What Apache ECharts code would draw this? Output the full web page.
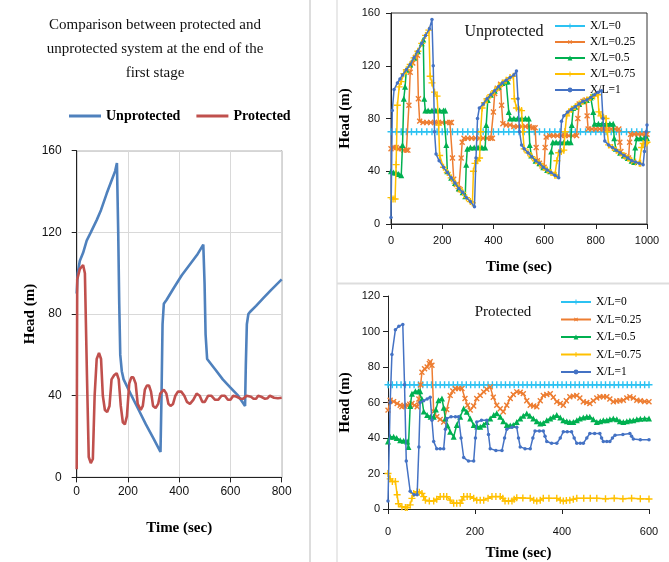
<!DOCTYPE html>
<html><head><meta charset="utf-8">
<script src="https://cdn.jsdelivr.net/npm/echarts@6/dist/echarts.min.js"></script>
<style>html,body{margin:0;padding:0;background:#fff}#c{width:669px;height:562px}</style>
</head><body><div id="c"></div>
<script>
// ---------- Left panel: Comparison (first stage) ----------
const leftUnprotected = [[0,90],[4,100],[12,106],[25,110],[39,116],[55,120],[78,126],[95,131],[117,139],[135,145],[150,150],[157,154],[162,120],[166,85],[170,60],[176,52],[183,48],[210,41],[242,33],[270,26],[300,19],[327,12.5],[331,40],[335,75],[340,85],[351,87],[380,93],[410,99],[440,104],[470,109],[494,114],[499,95],[503,70],[509,58],[540,53],[570,48],[600,44],[630,40],[657,35],[660,55],[664,75],[670,80],[676,81],[700,84],[730,88],[760,92],[800,97]];
const leftProtected = [[0,4],[2,97],[12,102],[25,104],[32,100],[40,50],[47,10],[55,7],[63,9],[70,40],[78,58],[87,61],[95,58],[102,40],[110,33],[119,32],[128,35],[136,48],[146,50],[156,51],[164,48],[172,35],[180,27],[188,26],[196,30],[205,46],[213,49],[221,49],[230,46],[238,36],[250,33],[258,35],[266,43],[274,45],[282,45],[290,42],[298,35],[308,34],[318,36],[326,41],[340,43],[350,41],[358,36],[366,35],[376,36],[385,40],[395,42],[408,42],[420,40],[430,37],[442,36],[455,38],[468,41],[480,40],[490,37],[500,37],[513,40],[525,40],[540,38],[552,38],[565,40],[578,40],[590,38],[600,38],[611,40],[625,39.5],[640,38.5],[650,38.5],[663,40],[680,39.5],[690,38.5],[700,38.5],[708,40],[720,39.5],[735,38.5],[745,38.8],[754,40],[770,39],[785,38.8],[800,39]];

// ---------- Top right: Unprotected ----------
const unprotXL0 = [[0,70],[20,70],[40,70],[60,70],[80,70],[100,70],[120,70],[140,70],[160,70],[180,70],[200,70],[220,70],[240,70],[260,70],[280,70],[300,70],[320,70],[340,70],[360,70],[380,70],[400,70],[420,70],[440,70],[460,70],[480,70],[500,70],[520,70],[540,70],[560,70],[580,70],[600,70],[620,70],[640,70],[660,70],[680,70],[700,70],[720,70],[740,70],[760,70],[780,70],[800,70],[820,70],[840,70],[860,70],[880,70],[900,70],[920,70],[940,70],[960,70],[980,70],[1000,70]];
const unprotXL025 = [[0,57],[10,58],[20,58],[30,57],[40,57],[50,56],[60,56],[66,56],[70,90],[75,115],[85,122],[95,126],[103,128],[107,95],[112,78],[125,77],[140,77],[155,77],[170,77],[185,77],[200,77],[215,77],[230,77],[236,77],[240,50],[245,34],[255,30],[265,27],[270,26],[274,50],[278,62],[285,65],[300,65],[315,65],[330,65],[345,65],[360,65],[375,65],[390,65],[396,65],[400,85],[405,99],[415,103],[428,106],[432,90],[437,76],[450,75],[465,75],[480,74],[495,74],[510,74],[525,74],[540,74],[555,73],[563,73],[567,58],[572,48],[580,46],[590,44],[598,43],[602,58],[606,66],[620,67],[635,67],[650,67],[665,67],[680,67],[695,67],[710,67],[725,67],[730,80],[735,91],[750,93],[762,94],[766,82],[770,72],[785,72],[800,72],[815,72],[830,72],[845,72],[860,72],[875,72],[890,72],[894,62],[898,55],[910,52],[920,51],[928,50],[932,62],[936,68],[950,68],[965,68],[980,68],[995,68],[1000,68]];
const unprotXL05 = [[0,40],[10,39],[20,39],[30,38],[40,37],[45,60],[50,95],[55,104],[60,117],[75,121],[90,126],[105,131],[120,137],[126,140],[130,95],[134,86],[145,86],[160,86],[175,86],[190,86],[205,86],[212,86],[216,60],[220,40],[235,35],[250,31],[265,27],[280,24],[290,21],[294,45],[298,57],[310,58],[325,58],[340,58],[355,58],[368,58],[372,75],[378,94],[390,98],[405,101],[420,104],[435,107],[450,108],[456,108],[460,85],[465,80],[480,80],[495,80],[510,80],[525,80],[538,80],[542,60],[548,52],[565,48],[580,46],[595,43],[610,41],[622,40],[626,55],[632,62],[645,62],[660,62],[675,62],[690,62],[702,62],[706,75],[712,88],[720,89],[735,91],[750,93],[765,94],[780,96],[786,97],[790,85],[795,76],[810,76],[825,76],[840,76],[855,76],[868,76],[872,65],[878,57],[895,54],[910,52],[925,50],[940,48],[950,47],[954,58],[960,65],[975,65],[990,65],[1000,65]];
const unprotXL075 = [[0,20],[8,19],[16,19],[20,45],[25,90],[32,104],[40,108],[50,114],[60,117],[75,121],[90,126],[105,131],[120,137],[135,143],[148,147],[153,112],[160,107],[170,100],[180,97],[186,75],[190,52],[205,43],[220,39],[235,35],[250,31],[265,27],[280,24],[295,20],[310,17],[318,16],[322,40],[328,46],[338,48],[346,50],[350,70],[356,88],[365,92],[375,95],[390,98],[405,101],[420,104],[435,107],[450,109],[465,111],[478,112],[482,95],[490,88],[500,87],[510,86],[515,70],[520,57],[535,54],[550,51],[565,48],[580,46],[595,43],[610,41],[625,39],[640,37],[645,37],[648,48],[655,54],[665,55],[675,56],[680,70],[686,82],[695,85],[705,87],[720,89],[735,91],[750,93],[765,94],[780,96],[795,97],[808,98],[812,85],[820,82],[830,81],[840,80],[845,70],[850,60],[865,58],[880,56],[895,54],[910,52],[925,50],[940,48],[955,47],[970,46],[975,46],[979,58],[985,61],[995,61],[1000,62]];
const unprotXL1 = [[0,5],[5,86],[12,102],[25,107],[35,110],[45,113],[60,117],[75,121],[90,126],[105,131],[120,137],[135,143],[150,148],[160,155],[165,120],[170,70],[176,53],[188,48],[205,43],[220,39],[235,35],[250,31],[265,27],[280,24],[295,20],[310,17],[326,13],[332,50],[338,80],[345,88],[360,91],[375,95],[390,98],[405,101],[420,104],[435,107],[450,109],[465,111],[480,113],[490,116],[496,95],[502,70],[510,60],[520,57],[535,54],[550,51],[565,48],[580,46],[595,43],[610,41],[625,39],[640,37],[655,35],[660,55],[666,78],[675,82],[690,85],[705,87],[720,89],[735,91],[750,93],[765,94],[780,96],[795,98],[810,100],[822,101],[828,80],[835,63],[850,60],[865,58],[880,56],[895,54],[910,52],[925,50],[940,48],[955,47],[970,46],[985,45],[990,55],[997,70],[1000,75]];

// ---------- Bottom right: Protected ----------
const protXL0 = [[0,70],[10,70],[20,70],[30,70],[40,70],[50,70],[60,70],[70,70],[80,70],[90,70],[100,70],[110,70],[120,70],[130,70],[140,70],[150,70],[160,70],[170,70],[180,70],[190,70],[200,70],[210,70],[220,70],[230,70],[240,70],[250,70],[260,70],[270,70],[280,70],[290,70],[300,70],[310,70],[320,70],[330,70],[340,70],[350,70],[360,70],[370,70],[380,70],[390,70],[400,70],[410,70],[420,70],[430,70],[440,70],[450,70],[460,70],[470,70],[480,70],[490,70],[500,70],[510,70],[520,70],[530,70],[540,70],[550,70],[560,70],[570,70],[580,70],[590,70],[600,70]];
const protXL025 = [[0,55.7],[5,61.3],[13,60.5],[21,59.4],[28,58.5],[32,57.6],[38,58],[44,58.5],[50,59],[55,59.4],[61,58.5],[67,57.6],[71,62],[75,70],[78,77],[84,79],[90,80],[95,82],[97,83],[101,81],[105,55],[112,52],[120,50.5],[128,49],[135,56],[143,64],[149,66.5],[155,67.9],[162,67.9],[170,67.9],[177,62.3],[183,58.5],[189,55.7],[197,58],[204,62.3],[212,64],[220,66],[227,67.5],[235,68.8],[242,63],[250,58.5],[258,56.5],[265,54.8],[273,58.5],[281,62.3],[288,64.5],[296,66],[304,65.8],[311,65],[319,61],[327,58.5],[335,58],[342,57.6],[350,61],[357,64],[365,64.5],[373,65],[380,63],[388,60.4],[396,59.5],[403,58.5],[410,61],[418,63.2],[426,63.6],[434,64],[441,62.5],[449,60.4],[457,60],[464,59.4],[472,61],[480,62.5],[487,63.2],[495,63.2],[503,63.2],[510,62],[518,60.4],[526,60.8],[533,61],[541,61.3],[549,62.5],[556,63.2],[564,62.5],[572,61.3],[580,61],[590,60.6],[600,60.4]];
const protXL05 = [[0,38],[5,40.7],[13,40.7],[20,40],[28,38.8],[36,38.4],[44,38],[47,35],[51,58],[55,65],[63,66.4],[70,66.4],[74,66.4],[78,62],[82,55],[90,53],[98,52],[105,52],[110,56],[116,61.3],[124,62.3],[128,57],[132,51],[137,47],[143,43.5],[151,40.7],[158,47.3],[166,52],[174,56.6],[181,54.8],[189,51],[197,47.3],[205,46.5],[212,46.3],[220,47.5],[227,49],[235,51],[243,53],[250,54],[258,52],[265,49.5],[273,47.3],[281,47],[288,47.3],[296,49],[304,51],[311,52.5],[319,53.8],[326,52.5],[334,51],[342,49.5],[350,48.2],[357,48.5],[365,50],[373,51],[380,52],[388,52.9],[396,51.5],[403,50],[411,49.5],[418,49],[426,49],[434,50],[441,51],[449,51.5],[457,52],[464,52],[472,50.5],[480,49],[488,49.5],[495,50],[503,50],[510,50.5],[518,51],[526,50.5],[533,49.5],[541,49],[549,49.5],[556,49.8],[564,50],[572,50.5],[580,50.8],[590,51],[600,51]];
const protXL075 = [[0,20],[5,17],[10,15.5],[17,15.5],[21,8],[24,3],[32,1.3],[40,0.8],[44,0.8],[51,2.3],[55,6],[59,8.8],[67,9.7],[72,9.5],[78,8.8],[82,7],[86,5],[95,4.5],[105,4.5],[112,5.5],[120,7],[128,7],[135,7],[143,5],[151,3.2],[158,3.2],[166,3.2],[170,5],[174,7],[182,7],[189,7],[197,6],[204,5],[212,5],[220,5],[230,6],[239,7],[248,7],[258,7],[264,6],[269,4.5],[277,4.5],[285,4.5],[290,5.5],[296,6.4],[310,6.2],[327,6],[335,5],[342,4.5],[350,5],[357,6],[370,6],[388,6],[396,5],[403,4.5],[410,4.8],[418,5],[426,5.5],[434,6],[450,6],[465,6],[480,6],[500,5.8],[520,6],[540,5.8],[560,6],[580,5.8],[600,5.6]];
const protXL1 = [[0,4.5],[5,60],[9,87],[17,101],[25,103],[34,104],[38,70],[42,27],[51,10],[60,8],[67,8],[71,35],[74,60],[82,61],[90,62],[97,63],[101,50],[105,38],[112,34],[120,34],[128,34],[132,45],[135,51],[145,52],[155,52],[162,52],[168,40],[174,29],[185,27],[197,27],[201,40],[204,49],[215,50],[227,50],[231,42],[235,34],[248,33],[262,33],[268,40],[273,45],[285,46],[296,46],[300,40],[304,35],[315,34],[327,34],[333,40],[338,44],[348,44],[357,44],[361,41],[365,38],[376,37],[388,37],[396,40],[403,43.5],[412,43.5],[422,43.5],[428,40],[434,37],[442,37],[449,37],[457,40],[464,42.6],[475,42.6],[487,42.6],[491,40],[495,38],[503,38],[510,38],[516,40],[522,41.6],[540,42],[556,42.6],[560,41],[564,39.5],[580,39],[600,39]];

const xlNames = ['X/L=0','X/L=0.25','X/L=0.5','X/L=0.75','X/L=1'];
const compNames = ['Unprotected','Protected'];

const SERIF = '"Liberation Serif","DejaVu Serif",serif';
const SANS = '"Liberation Sans",Arial,sans-serif';
const PLUS = 'path://M4,0h2v4h4v2h-4v4h-2v-4h-4v-2h4z';
const xlColors = ['#2CC2F2','#ED7D31','#00B050','#FFC000','#4472C4'];
const xlSym = [
  {symbol:PLUS, symbolSize:7, symbolRotate:0},
  {symbol:PLUS, symbolSize:7, symbolRotate:45},
  {symbol:'triangle', symbolSize:6, symbolRotate:0},
  {symbol:PLUS, symbolSize:7, symbolRotate:0},
  {symbol:'circle', symbolSize:3.5, symbolRotate:0}
];
const plainNum = v => String(v);

function axisCommon(o){
  return Object.assign({
    type:'value',
    axisLine:{show:true,onZero:false,lineStyle:{color:'#222',width:1}},
    axisTick:{show:true,length:5,lineStyle:{color:'#222'}},
    splitLine:{show:false},
    nameLocation:'middle',
    nameTextStyle:{fontFamily:SERIF,fontWeight:'bold',fontSize:15,color:'#000'}
  }, o);
}

const chart = echarts.init(document.getElementById('c'), null, {renderer:'canvas'});

const series = [
  {name:compNames[0], type:'line', xAxisIndex:0, yAxisIndex:0, data:leftUnprotected, showSymbol:false, symbol:'none',
   lineStyle:{color:'#4F81BD',width:2.6}, itemStyle:{color:'#4F81BD'}, z:3},
  {name:compNames[1], type:'line', xAxisIndex:0, yAxisIndex:0, data:leftProtected, showSymbol:false, symbol:'none',
   lineStyle:{color:'#C0504D',width:2.6}, itemStyle:{color:'#C0504D'}, z:4}
];
const topData = [unprotXL0, unprotXL025, unprotXL05, unprotXL075, unprotXL1];
const botData = [protXL0, protXL025, protXL05, protXL075, protXL1];
[topData, botData].forEach((set, gi) => {
  set.forEach((d, i) => {
    series.push({
      name: xlNames[i], type:'line', xAxisIndex:gi+1, yAxisIndex:gi+1, data:d,
      symbol: xlSym[i].symbol, symbolSize: xlSym[i].symbolSize, symbolRotate: xlSym[i].symbolRotate,
      showSymbol:true,
      lineStyle:{color:xlColors[i], width:1.5},
      itemStyle:{color:xlColors[i]},
      z: 3 + i
    });
  });
});

chart.setOption({
  animation:false,
  backgroundColor:'#fff',
  grid:[
    {left:76.7, top:150.7, width:205, height:326.7, show:true, borderColor:'#222', borderWidth:1, backgroundColor:'transparent'},
    {left:391, top:13, width:256, height:211, show:true, borderColor:'#333', borderWidth:1, backgroundColor:'transparent'},
    {left:388, top:296, width:261, height:213}
  ],
  xAxis:[
    axisCommon({gridIndex:0, min:0, max:800, interval:200, name:'Time (sec)', nameGap:43,
      splitLine:{show:true,lineStyle:{color:'#d9d9d9'}},
      axisLabel:{fontFamily:SANS,fontSize:12,color:'#111',margin:8,formatter:plainNum}}),
    axisCommon({gridIndex:1, min:0, max:1000, interval:200, name:'Time (sec)', nameGap:36,
      axisLabel:{fontFamily:SANS,fontSize:11,color:'#111',margin:11,formatter:plainNum}}),
    axisCommon({gridIndex:2, min:0, max:600, interval:200, name:'Time (sec)', nameGap:37,
      axisLabel:{fontFamily:SANS,fontSize:11,color:'#111',margin:17,formatter:plainNum}})
  ],
  yAxis:[
    axisCommon({gridIndex:0, min:0, max:160, interval:40, name:'Head (m)', nameGap:39,
      splitLine:{show:true,lineStyle:{color:'#d9d9d9'}},
      axisLabel:{fontFamily:SANS,fontSize:12,color:'#111',margin:15,formatter:plainNum}}),
    axisCommon({gridIndex:1, min:0, max:160, interval:40, name:'Head (m)', nameGap:38,
      axisLabel:{fontFamily:SANS,fontSize:11,color:'#111',margin:11,formatter:plainNum}}),
    axisCommon({gridIndex:2, min:0, max:120, interval:20, name:'Head (m)', nameGap:35,
      axisLabel:{fontFamily:SANS,fontSize:11,color:'#111',margin:8,formatter:plainNum}})
  ],
  legend:[
    {data:compNames.map(n => ({name:n, icon:'rect'})), left:64, top:104, itemWidth:32, itemHeight:3, itemGap:16,
     textStyle:{fontFamily:SERIF,fontWeight:'bold',fontSize:14,color:'#000'}},
    {data:xlNames, orient:'vertical', left:549, top:15, itemWidth:30, itemHeight:6, itemGap:4,
     textStyle:{fontFamily:SERIF,fontSize:11.5,lineHeight:12,color:'#000'}},
    {data:xlNames, orient:'vertical', left:555, top:291, itemWidth:30, itemHeight:6, itemGap:5.5,
     textStyle:{fontFamily:SERIF,fontSize:11.5,lineHeight:12,color:'#000'}}
  ],
  graphic:[
    {type:'line', shape:{x1:310,y1:0,x2:310,y2:562}, style:{stroke:'#dddddd',lineWidth:2}, silent:true},
    {type:'line', shape:{x1:337,y1:0,x2:337,y2:562}, style:{stroke:'#e2e2e2',lineWidth:1.5}, silent:true},
    {type:'line', shape:{x1:337,y1:283.5,x2:669,y2:283.5}, style:{stroke:'#dddddd',lineWidth:2}, silent:true},
    {type:'text', x:155, y:13, silent:true,
     style:{text:'Comparison between protected and\nunprotected system at the end of the\nfirst stage',
       align:'center', textAlign:'center', verticalAlign:'top', lineHeight:24,
       font:'15px ' + SERIF, fill:'#111'}},
    {type:'text', x:504, y:32, silent:true,
     style:{text:'Unprotected', align:'center', textAlign:'center', verticalAlign:'middle', font:'16px ' + SERIF, fill:'#111'}},
    {type:'text', x:503, y:312, silent:true,
     style:{text:'Protected', align:'center', textAlign:'center', verticalAlign:'middle', font:'15px ' + SERIF, fill:'#111'}}
  ],
  series: series
});
</script>
</body></html>
